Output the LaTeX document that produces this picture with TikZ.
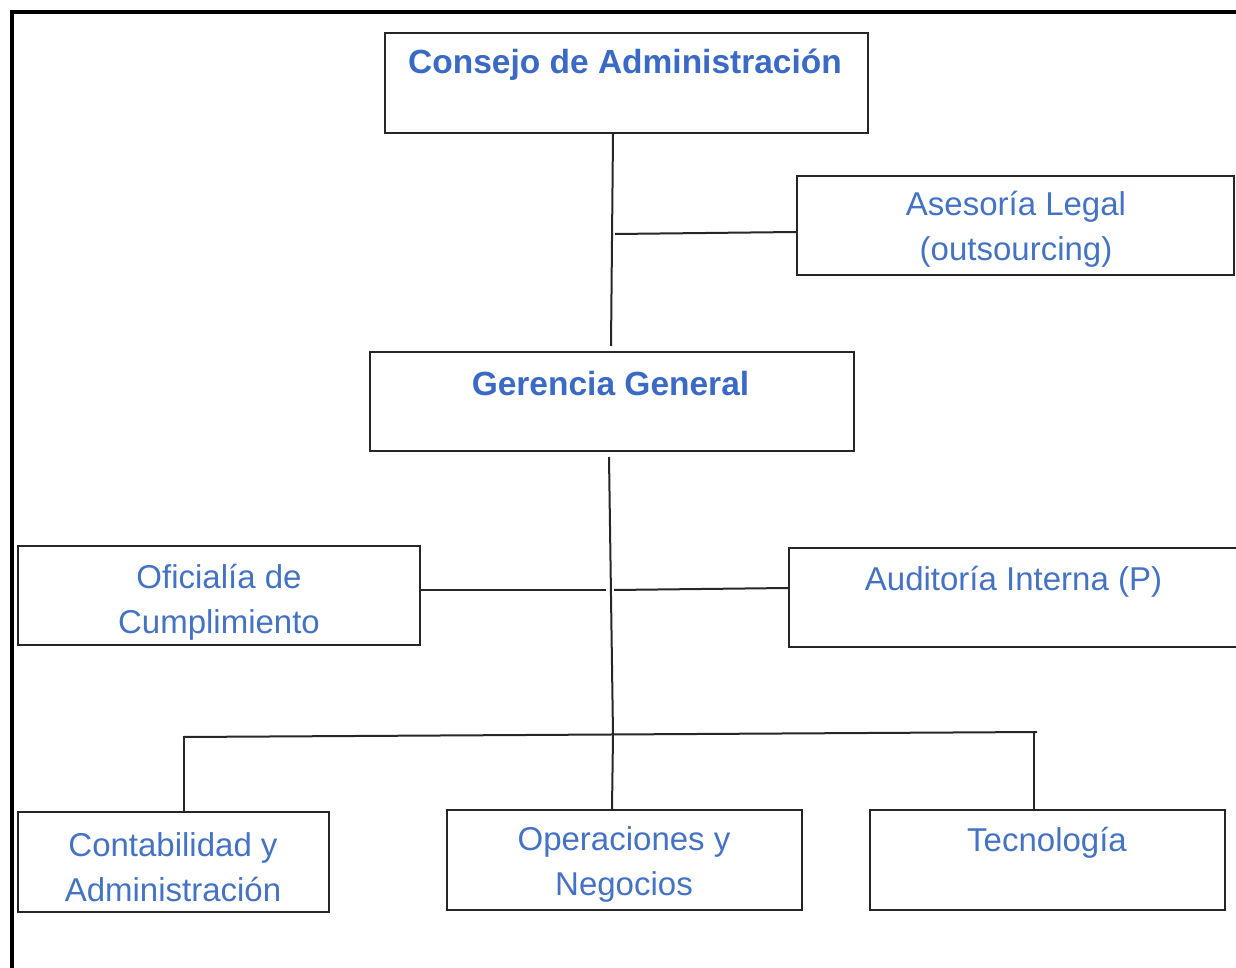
\documentclass[tikz,border=0pt]{standalone}
\usepackage{fontspec}
\setmainfont{Liberation Sans}
\begin{document}
\begin{tikzpicture}[x=1pt,y=-1pt,
  box/.style={draw=black!85,line width=2pt,rectangle,inner sep=0pt},
  txt/.style={text=blueA,font=\fontsize{33}{45}\selectfont,align=center,inner sep=0pt},
  btxt/.style={text=blueB,font=\fontsize{33.5}{45}\selectfont\bfseries,align=center,inner sep=0pt},
  link/.style={draw=black!85,line width=2pt}]
\definecolor{blueA}{HTML}{4472C4}
\definecolor{blueB}{HTML}{3A6AC6}
\useasboundingbox (0,0) rectangle (1236,968);
\clip (0,0) rectangle (1236,968);
% outer frame
\draw[line width=3.5pt] (12,970) -- (12,12) -- (1240,12);
% boxes
\node[box,minimum width=483pt,minimum height=100pt] (cons) at (626.5,83) {};
\node[box,minimum width=437pt,minimum height=99pt] (ases) at (1015.5,225.5) {};
\node[box,minimum width=484pt,minimum height=99pt] (ger) at (612,401.5) {};
\node[box,minimum width=402pt,minimum height=99pt] (ofi) at (219,595.5) {};
\node[box,minimum width=460pt,minimum height=99pt] (aud) at (1019,597.5) {};
\node[box,minimum width=311pt,minimum height=100pt] (cont) at (173.5,862) {};
\node[box,minimum width=355pt,minimum height=100pt] (oper) at (624.5,860) {};
\node[box,minimum width=355pt,minimum height=100pt] (tec) at (1047.5,860) {};
% texts
\node[btxt] (tcons) at (625,65) {Consejo de Administración};
\node[txt] (tases) at (1016,229.5) {Asesoría Legal\\(outsourcing)};
\node[btxt] (tger) at (610.5,384) {Gerencia General};
\node[txt] (tofi) at (219,602) {Oficialía de\\Cumplimiento};
\node[txt] (taud) at (1013.5,582) {Auditoría Interna (P)};
\node[txt] (tcont) at (173,867.5) {Contabilidad y\\Administración};
\node[txt] (toper) at (624,864) {Operaciones y\\Negocios};
\node[txt] (ttec) at (1047,843) {Tecnología};
% connector coordinates
\coordinate (c1) at (cons.south -| 613,0);
\coordinate (c2) at (611,346);
\coordinate (a1) at (615,234);
\coordinate (a2) at (ases.west |- 0,232);
\coordinate (g1) at (609,457);
\coordinate (g2) at (613,735);
\coordinate (o1) at (ofi.east |- 0,590);
\coordinate (o2) at (606,590);
\coordinate (u1) at (614,590);
\coordinate (u2) at (aud.west |- 0,588);
\coordinate (bl) at (183,737);
\coordinate (br) at (1037,732);
\coordinate (bl2) at (cont.north -| 184,0);
\coordinate (bm2) at (oper.north -| 612,0);
\coordinate (br2) at (tec.north -| 1034,0);
\coordinate (br1) at (1034,732);
\coordinate (bl1) at (184,737);
% connectors
\draw[link] (c1) -- (c2);
\draw[link] (a1) -- (a2);
\draw[link] (g1) -- (g2) -- (bm2);
\draw[link] (o1) -- (o2);
\draw[link] (u1) -- (u2);
\draw[link] (bl) -- (br);
\draw[link] (bl1) -- (bl2);
\draw[link] (br1) -- (br2);
\end{tikzpicture}
\end{document}
